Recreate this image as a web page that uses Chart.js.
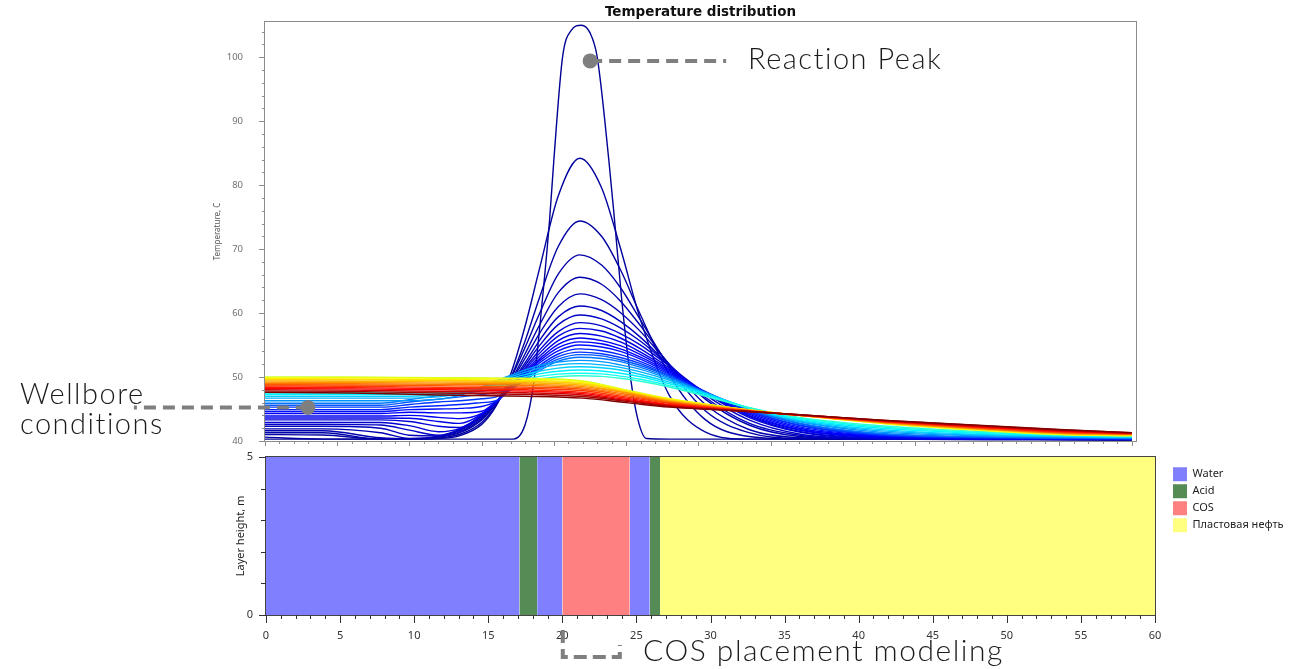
<!DOCTYPE html>
<html lang="en">
<head>
<meta charset="utf-8">
<title>Temperature distribution</title>
<script src="https://cdn.jsdelivr.net/npm/chart.js@4.4.1/dist/chart.umd.min.js"></script>
<style>
html, body { margin: 0; padding: 0; background: #ffffff; }
#page { position: relative; width: 1315px; height: 669px; overflow: hidden; }
canvas { position: absolute; left: 0; }
#tempChart { top: 0; }
#layerChart { top: 448px; }
.note { position: absolute; white-space: nowrap; font-family: Lato, "Noto Sans", sans-serif; font-weight: 300;
        font-size: 29px; line-height: 29px; letter-spacing: 1.5px; color: #1c1c1c; }
</style>
</head>
<body>
<div id="page">
  <canvas id="tempChart" width="1315" height="452"></canvas>
  <canvas id="layerChart" width="1315" height="221"></canvas>
  <div class="note" style="left:748px; top:43px;">Reaction Peak</div>
  <div class="note" style="left:20px; top:378px;">Wellbore</div>
  <div class="note" style="left:20px; top:408px;">conditions</div>
  <div class="note" style="left:643px; top:634px; font-size:30px; line-height:30px;">COS placement modeling</div>
</div>
<script>
// ---- temperature profiles (x in m, T in C) ----
// first profile: the reaction peak
var peakCurveX = [0, 9, 15, 17.2, 18.0, 18.6, 19.2, 19.7, 20.0, 20.6, 21.2, 21.9, 22.5, 23.0, 23.8, 24.2, 24.7, 25.3, 25.8, 26.4, 28, 40, 50, 60];
var peakCurveT = [40.3, 40.3, 40.3, 40.3, 42.5, 49, 62, 74.5, 84, 100, 104.2, 105, 103.8, 100, 84, 74.5, 62, 50, 43.5, 40.4, 40.3, 40.3, 40.2, 40.2];

// early profiles (blue)
var earlyGridX = [0, 4, 8, 10, 12, 13.5, 15, 16, 17, 18, 19, 20.3, 21.8, 23.3, 24.6, 26, 28, 30.5, 33.5, 37, 42, 50, 60];
var earlyCurves = [
  [40.6, 40.3, 40.3, 40.3, 40.4, 40.85, 42.6, 45.5, 50.4, 57.9, 66.9, 78.3, 84.2, 79.6, 70.2, 58.9, 47.1, 41.4, 40.3, 40.3, 40.3, 40.3, 40.2],
  [41.0, 40.93, 40.3, 40.3, 40.45, 41.05, 42.9, 45.6, 49.8, 55.6, 62.4, 70.4, 74.4, 72.0, 66.8, 59.7, 50.3, 43.3, 40.7, 40.3, 40.3, 40.3, 40.2],
  [41.3, 41.3, 40.3, 40.3, 40.6, 41.3, 43.3, 45.9, 49.7, 54.6, 59.9, 66.1, 69.1, 67.5, 64.0, 58.9, 51.5, 44.7, 41.3, 40.4, 40.3, 40.3, 40.2],
  [41.6, 41.6, 40.5, 40.35, 40.65, 41.45, 43.5, 45.9, 49.3, 53.6, 58.1, 63.2, 65.6, 64.5, 61.9, 58.0, 51.9, 45.7, 41.8, 40.5, 40.3, 40.3, 40.2],
  [41.9, 41.9, 41.3, 40.4, 40.75, 41.65, 43.7, 46.1, 49.2, 52.9, 56.8, 61.0, 63.0, 62.1, 60.1, 57.1, 52.0, 46.5, 42.5, 40.7, 40.3, 40.3, 40.25],
  [42.3, 42.3, 42.0, 40.9, 40.8, 41.75, 43.8, 46.0, 48.9, 52.2, 55.7, 59.4, 61.1, 60.4, 58.7, 56.2, 51.8, 46.8, 42.8, 40.9, 40.3, 40.3, 40.25],
  [42.6, 42.6, 42.5, 41.7, 40.9, 41.85, 43.9, 46.0, 48.7, 51.8, 54.9, 58.2, 59.7, 59.1, 57.7, 55.6, 51.8, 47.2, 43.3, 41.1, 40.4, 40.3, 40.25],
  [42.9, 42.9, 42.9, 42.4, 41.45, 41.98, 44.0, 46.0, 48.5, 51.4, 54.2, 57.1, 58.5, 58.0, 56.8, 55.0, 51.7, 47.5, 43.7, 41.4, 40.4, 40.3, 40.3],
  [43.3, 43.3, 43.3, 43.05, 42.3, 42.1, 44.1, 46.0, 48.4, 51.1, 53.7, 56.4, 57.6, 57.2, 56.1, 54.4, 51.4, 47.5, 43.9, 41.5, 40.5, 40.3, 40.3],
  [43.6, 43.6, 43.6, 43.55, 43.05, 42.75, 44.2, 46.1, 48.3, 50.8, 53.2, 55.7, 56.8, 56.4, 55.5, 53.9, 51.2, 47.6, 44.0, 41.7, 40.6, 40.35, 40.3],
  [43.9, 43.9, 43.9, 44.0, 43.7, 43.5, 44.3, 46.1, 48.3, 50.6, 52.8, 55.1, 56.1, 55.7, 54.9, 53.5, 51.0, 47.6, 44.2, 41.8, 40.7, 40.4, 40.3],
  [44.3, 44.3, 44.3, 44.5, 44.4, 44.4, 44.65, 46.2, 48.2, 50.4, 52.5, 54.6, 55.5, 55.2, 54.4, 53.1, 50.8, 47.6, 44.4, 42.0, 40.8, 40.4, 40.3],
  [44.6, 44.6, 44.6, 44.9, 45.0, 45.1, 45.4, 46.2, 48.2, 50.3, 52.2, 54.1, 55.0, 54.7, 54.0, 52.8, 50.6, 47.7, 44.6, 42.2, 40.9, 40.45, 40.35],
  [44.9, 44.9, 44.9, 45.3, 45.5, 45.7, 46.0, 46.3, 48.1, 50.0, 51.8, 53.6, 54.4, 54.1, 53.5, 52.4, 50.4, 47.6, 44.7, 42.4, 41.0, 40.5, 40.35],
  [45.3, 45.3, 45.3, 45.7, 46.1, 46.3, 46.6, 46.9, 48.0, 49.8, 51.5, 53.2, 53.9, 53.65, 53.05, 52.1, 50.2, 47.6, 44.8, 42.5, 41.1, 40.55, 40.4],
  [45.6, 45.6, 45.6, 46.1, 46.55, 46.9, 47.25, 47.6, 48.0, 49.7, 51.3, 52.8, 53.5, 53.3, 52.7, 51.8, 50.1, 47.6, 44.9, 42.7, 41.2, 40.6, 40.4],
  [45.9, 45.9, 45.9, 46.45, 47.1, 47.4, 47.8, 48.1, 48.2, 49.5, 51.0, 52.5, 53.1, 52.9, 52.4, 51.5, 49.9, 47.6, 45.0, 42.8, 41.3, 40.65, 40.45]
];

// cyan profiles
var transitionGridX = [0, 5, 9, 12, 14, 16, 17.5, 19, 20.3, 21.8, 23.3, 24.6, 26, 28, 30.5, 33.5, 37, 42, 50, 60];
var transitionCurves = [
  [46.3, 46.3, 46.3, 46.5, 47.5, 49.4, 50.7, 51.8, 52.35, 52.6, 52.4, 51.9, 51.2, 49.7, 47.5, 45.0, 43.0, 41.5, 40.8, 40.5],
  [46.7, 46.7, 46.7, 46.9, 47.6, 49.3, 50.4, 51.4, 51.9, 52.1, 51.9, 51.5, 50.8, 49.5, 47.5, 45.1, 43.1, 41.7, 40.9, 40.55],
  [47.0, 47.0, 47.0, 47.2, 47.7, 49.05, 50.1, 50.9, 51.4, 51.6, 51.45, 51.1, 50.4, 49.2, 47.4, 45.15, 43.25, 41.9, 41.0, 40.6],
  [47.3, 47.3, 47.3, 47.4, 47.8, 48.8, 49.8, 50.5, 50.9, 51.1, 50.95, 50.6, 50.05, 48.95, 47.3, 45.2, 43.4, 42.1, 41.15, 40.65],
  [47.5, 47.5, 47.5, 47.6, 47.9, 48.55, 49.4, 50.1, 50.45, 50.6, 50.5, 50.15, 49.65, 48.65, 47.1, 45.2, 43.55, 42.3, 41.3, 40.75],
  [47.6, 47.6, 47.6, 47.7, 48.0, 48.35, 49.1, 49.7, 50.05, 50.2, 50.1, 49.8, 49.35, 48.45, 47.0, 45.2, 43.7, 42.5, 41.45, 40.85]
];

// late profiles (yellow to dark red)
var lateGridX = [0, 6, 12, 18, 22, 25, 28, 32, 37, 43, 50, 55, 60];
var lateCurves = [
  [50.0, 50.0, 49.9, 49.8, 49.4, 48.0, 46.6, 45.3, 44.0, 42.7, 41.6, 41.0, 40.8],
  [49.9, 49.9, 49.8, 49.7, 49.3, 47.9, 46.6, 45.3, 44.0, 42.7, 41.65, 41.05, 40.85],
  [49.75, 49.7, 49.6, 49.5, 49.1, 47.8, 46.5, 45.3, 44.0, 42.75, 41.7, 41.1, 40.9],
  [49.6, 49.55, 49.45, 49.3, 48.9, 47.7, 46.4, 45.2, 44.0, 42.8, 41.75, 41.15, 40.95],
  [49.4, 49.35, 49.25, 49.1, 48.7, 47.6, 46.3, 45.2, 44.0, 42.8, 41.8, 41.2, 41.0],
  [49.2, 49.15, 49.05, 48.9, 48.5, 47.5, 46.2, 45.1, 44.0, 42.85, 41.85, 41.25, 41.05],
  [49.0, 48.95, 48.85, 48.7, 48.3, 47.3, 46.1, 45.1, 44.0, 42.9, 41.9, 41.3, 41.1],
  [48.8, 48.75, 48.65, 48.45, 48.1, 47.1, 46.0, 45.0, 44.0, 42.95, 41.95, 41.35, 41.1],
  [48.6, 48.55, 48.4, 48.25, 47.85, 46.9, 45.9, 45.0, 44.0, 43.0, 42.05, 41.45, 41.15],
  [48.4, 48.35, 48.2, 48.0, 47.6, 46.7, 45.7, 44.95, 44.05, 43.05, 42.1, 41.5, 41.2],
  [48.2, 48.15, 48.0, 47.8, 47.4, 46.5, 45.6, 44.9, 44.05, 43.1, 42.2, 41.6, 41.2],
  [48.0, 47.95, 47.75, 47.55, 47.2, 46.35, 45.5, 44.85, 44.1, 43.15, 42.25, 41.65, 41.25],
  [47.8, 47.75, 47.5, 47.3, 46.95, 46.2, 45.4, 44.8, 44.1, 43.2, 42.35, 41.75, 41.3],
  [47.6, 47.5, 47.2, 47.0, 46.7, 46.0, 45.3, 44.8, 44.1, 43.2, 42.4, 41.8, 41.3]
];

// position of each profile on the jet colour scale (0 = first, 1 = last)
var peakCurveTime = 0.02;
var earlyTime = [0.03, 0.035, 0.04, 0.045, 0.05, 0.06, 0.07, 0.08, 0.09, 0.1, 0.11, 0.125, 0.14, 0.16, 0.18, 0.21, 0.24];
var transitionTime = [0.27, 0.3, 0.33, 0.36, 0.39, 0.42];
var lateTime = [0.58, 0.61, 0.64, 0.67, 0.7, 0.73, 0.76, 0.79, 0.82, 0.85, 0.88, 0.92, 0.96, 1.0];

// ---- layer placement ----
var fluidNames = ['Water', 'Acid', 'COS', 'Пластовая нефть'];
var fluidColors = ['#8080ff', '#558b55', '#ff8080', '#ffff80'];
var bandStart = [0, 17.1, 18.3, 20.0, 24.55, 25.9, 26.6];
var bandEnd = [17.1, 18.3, 20.0, 24.55, 25.9, 26.6, 60];
var bandFluid = [0, 1, 0, 2, 0, 1, 3];
var layerHeight = 5;

Chart.defaults.font.family = '"Noto Sans", "DejaVu Sans", sans-serif';

//jet colormap
function jet(t) {
    var clamp = function (v) { return Math.min(Math.max(v, 0), 1); };
    var r = clamp(Math.min(4 * t - 1.5, -4 * t + 4.5));
    var g = clamp(Math.min(4 * t - 0.5, -4 * t + 3.5));
    var b = clamp(Math.min(4 * t + 0.5, -4 * t + 2.5));
    return 'rgb(' + Math.round(r * 255) + ',' + Math.round(g * 255) + ',' + Math.round(b * 255) + ')';
}

//invisible tick marks, used only to push the labels away from the axis
function spacer(len) {
    return { display: true, drawOnChartArea: false, drawTicks: true, tickLength: len, color: 'rgba(0,0,0,0)' };
}

//frame and minor/major tick marks
var axisMarks = {
    id: 'axisMarks',
    afterDraw: function (chart, args, o) {
        var ctx = chart.ctx, a = chart.chartArea;
        var xs = chart.scales.x, ys = chart.scales.y;
        ctx.save();
        ctx.lineWidth = 1;
        ctx.strokeStyle = o.frameColor;
        ctx.strokeRect(Math.round(a.left) - 0.5, Math.round(a.top) - 0.5,
            Math.round(a.right - a.left) + 1, Math.round(a.bottom - a.top) + 1);
        ctx.strokeStyle = o.tickColor;
        ctx.beginPath();
        for (var v = o.xFrom; v <= o.xTo + 1e-6; v += o.xStep) {
            var px = Math.round(xs.getPixelForValue(v)) + 0.5;
            var majX = Math.abs((v - o.xFrom) % o.xMajor) < 1e-6;
            ctx.moveTo(px, Math.round(a.bottom));
            ctx.lineTo(px, Math.round(a.bottom) + (majX ? o.xMajorLen : o.xMinorLen));
        }
        for (var w = o.yFrom; w <= o.yTo + 1e-6; w += o.yStep) {
            var py = Math.round(ys.getPixelForValue(w)) + 0.5;
            var majY = Math.abs((w - o.yFrom) % o.yMajor) < 1e-6;
            ctx.moveTo(Math.round(a.left), py);
            ctx.lineTo(Math.round(a.left) - (majY ? o.yMajorLen : o.yMinorLen), py);
        }
        ctx.stroke();
        ctx.restore();
    }
};

//dashed leader lines with a dot
var callouts = {
    id: 'callouts',
    afterDraw: function (chart, args, o) {
        var ctx = chart.ctx;
        o.items.forEach(function (it) {
            var px = chart.scales.x.getPixelForValue(it.x);
            var py = chart.scales.y.getPixelForValue(it.y);
            ctx.save();
            ctx.strokeStyle = '#7f7f7f';
            ctx.fillStyle = '#7f7f7f';
            ctx.lineWidth = 4;
            ctx.setLineDash([12, 7]);
            ctx.beginPath();
            ctx.moveTo(px, py);
            ctx.lineTo(px + it.dx, py);
            ctx.stroke();
            ctx.setLineDash([]);
            ctx.beginPath();
            ctx.arc(px, py, 7.5, 0, Math.PI * 2);
            ctx.fill();
            ctx.restore();
        });
    }
};

//bracket under the COS slug
var bracket = {
    id: 'bracket',
    afterDraw: function (chart, args, o) {
        var ctx = chart.ctx;
        var x1 = chart.scales.x.getPixelForValue(o.from);
        var x2 = chart.scales.x.getPixelForValue(o.to);
        ctx.save();
        ctx.strokeStyle = '#7f7f7f';
        ctx.lineWidth = 4;
        ctx.setLineDash([13, 6]);
        ctx.beginPath();
        ctx.moveTo(x1, o.top);
        ctx.lineTo(x1, o.bottom);
        ctx.lineTo(x2, o.bottom);
        ctx.lineTo(x2, o.end);
        ctx.stroke();
        ctx.restore();
    }
};

var profiles = [];
profiles.push({ xs: peakCurveX, ys: peakCurveT, t: peakCurveTime });
earlyCurves.forEach(function (row, i) { profiles.push({ xs: earlyGridX, ys: row, t: earlyTime[i] }); });
transitionCurves.forEach(function (row, i) { profiles.push({ xs: transitionGridX, ys: row, t: transitionTime[i] }); });
lateCurves.forEach(function (row, i) { profiles.push({ xs: lateGridX, ys: row, t: lateTime[i] }); });

var tempDatasets = profiles.map(function (p, i) {
    return {
        data: p.xs.map(function (x, j) { return { x: x, y: p.ys[j] }; }),
        borderColor: jet(p.t),
        borderWidth: 1.4,
        pointRadius: 0,
        fill: false,
        cubicInterpolationMode: 'monotone',
        order: profiles.length - i
    };
});

new Chart(document.getElementById('tempChart'), {
    type: 'line',
    data: { datasets: tempDatasets },
    plugins: [axisMarks, callouts],
    options: {
        responsive: false,
        animation: false,
        layout: { padding: { left: 211, right: 179, top: 0, bottom: 0 } },
        plugins: {
            legend: { display: false },
            tooltip: { enabled: false },
            title: {
                display: true,
                text: 'Temperature distribution',
                fullSize: false,
                color: '#111',
                font: { family: '"DejaVu Sans", sans-serif', size: 13.5, weight: 'bold' },
                padding: { top: 4, bottom: 1.8 }
            },
            axisMarks: {
                frameColor: '#8c8c8c', tickColor: '#8c8c8c',
                xFrom: 0, xTo: 60, xStep: 1, xMajor: 5, xMajorLen: 5, xMinorLen: 3,
                yFrom: 40, yTo: 104, yStep: 2, yMajor: 10, yMajorLen: 6, yMinorLen: 3
            },
            callouts: {
                items: [{ x: 22.51, y: 99.42, dx: 136 }, { x: 2.97, y: 45.23, dx: -174 }]
            }
        },
        scales: {
            x: {
                type: 'linear', min: 0, max: 60.3,
                ticks: { display: false },
                grid: { display: false, drawTicks: false },
                border: { display: false },
                afterFit: function (s) { s.height = 11; }
            },
            y: {
                min: 40, max: 105.5,
                ticks: {
                    stepSize: 10, includeBounds: false, padding: 0, color: '#707070',
                    font: { size: 9.5 },
                    callback: function (v) { return v % 10 === 0 ? v : ''; }
                },
                grid: spacer(22),
                border: { display: false },
                title: { display: true, text: 'Temperature, C', color: '#555', font: { size: 8 }, padding: { top: 2, bottom: 0 } },
                afterFit: function (s) { s.width = 54; }
            }
        }
    }
});

var layerDatasets = bandStart.map(function (s, i) {
    var c = fluidColors[bandFluid[i]];
    return {
        label: fluidNames[bandFluid[i]],
        data: [{ x: s, y: layerHeight }, { x: bandEnd[i], y: layerHeight }],
        fill: 'origin',
        backgroundColor: c,
        borderColor: c,
        borderWidth: 0,
        pointRadius: 0,
        tension: 0
    };
});

var layerChart = new Chart(document.getElementById('layerChart'), {
    type: 'line',
    data: { datasets: layerDatasets },
    plugins: [axisMarks, bracket],
    options: {
        responsive: false,
        animation: false,
        layout: { padding: { left: 232, right: 20, top: 9, bottom: 0 } },
        plugins: {
            tooltip: { enabled: false },
            legend: {
                position: 'right',
                align: 'start',
                title: { display: true, text: '', padding: 0, font: { size: 6 } },
                labels: {
                    boxWidth: 14, boxHeight: 14, padding: 3, color: '#222',
                    font: { size: 11 },
                    filter: function (item, data) {
                        return data.datasets.findIndex(function (d) { return d.label === item.text; }) === item.datasetIndex;
                    }
                }
            },
            axisMarks: {
                frameColor: '#444', tickColor: '#333',
                xFrom: 0, xTo: 60, xStep: 1, xMajor: 5, xMajorLen: 8, xMinorLen: 4,
                yFrom: 0, yTo: 5, yStep: 1, yMajor: 5, yMajorLen: 7, yMinorLen: 5
            },
            bracket: { from: 20.03, to: 23.88, top: 182, bottom: 209, end: 197 }
        },
        scales: {
            x: {
                type: 'linear', min: 0, max: 60,
                ticks: { stepSize: 5, color: '#333', font: { size: 11 }, padding: 0, maxRotation: 0 },
                grid: spacer(14),
                border: { display: false },
                afterFit: function (s) { s.height = 54; }
            },
            y: {
                min: 0, max: 5,
                ticks: { stepSize: 5, color: '#333', font: { size: 11 }, padding: 0 },
                grid: spacer(13),
                border: { display: false },
                title: { display: true, text: 'Layer height, m', color: '#222', font: { size: 11 }, padding: { top: 2, bottom: 0 } },
                afterFit: function (s) { s.width = 34; }
            },
            y2: {
                position: 'right', min: 0, max: 5, display: true,
                ticks: { display: false },
                grid: { display: false, drawTicks: false },
                border: { display: false },
                afterFit: function (s) { s.width = 15; }
            }
        }
    }
});

//move the legend so that the plot ends where the original does
var shift = layerChart.chartArea.right - 1155;
if (Math.abs(shift) > 0.5) {
    layerChart.options.layout.padding.right += shift;
    layerChart.update();
}
</script>
</body>
</html>
